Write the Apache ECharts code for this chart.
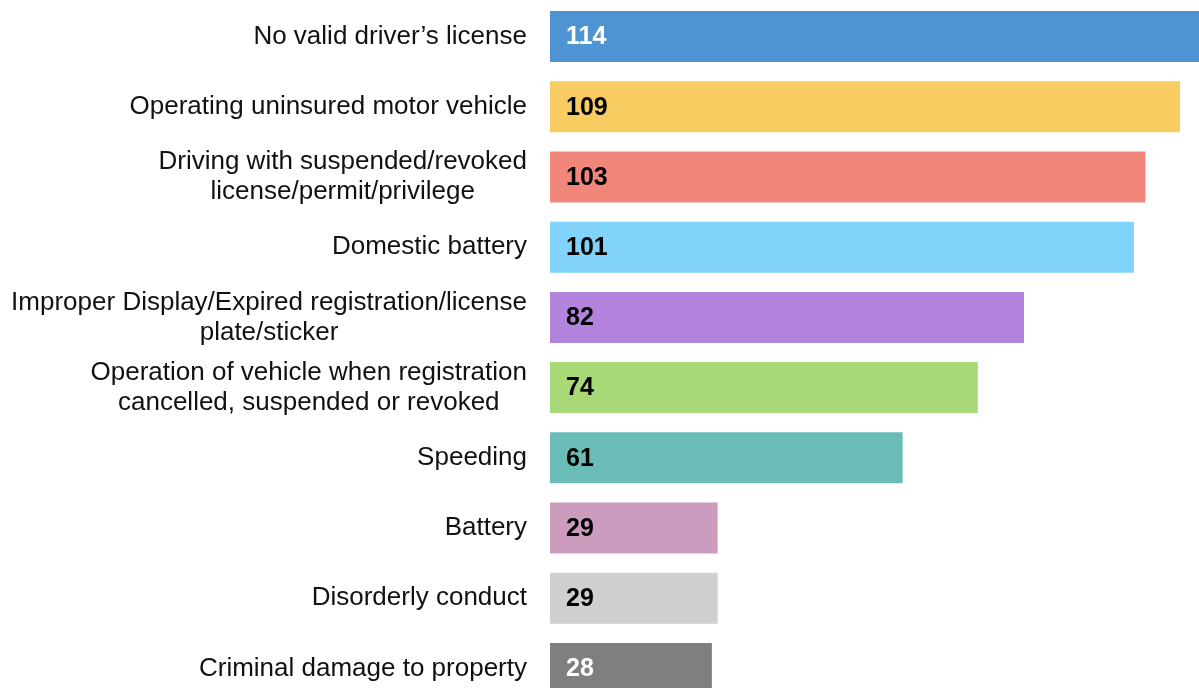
<!DOCTYPE html>
<html><head><meta charset="utf-8">
<script src="https://cdn.jsdelivr.net/npm/echarts@6/dist/echarts.min.js"></script>
<style>html,body{margin:0;padding:0;background:#fff}#c{width:1199px;height:688px}</style>
</head><body><div id="c"></div>
<script>
const categories = [
  "No valid driver\u2019s license",
  "Operating uninsured motor vehicle",
  "Driving with suspended/revoked\nlicense/permit/privilege",
  "Domestic battery",
  "Improper Display/Expired registration/license\nplate/sticker",
  "Operation of vehicle when registration\ncancelled, suspended or revoked",
  "Speeding",
  "Battery",
  "Disorderly conduct",
  "Criminal damage to property"
];
const values = [114, 109, 103, 101, 82, 74, 61, 29, 29, 28];
const barColors = ["#4E93D2", "#F7CD62", "#F0877A", "#81D3FB", "#B284DD", "#A9D977", "#6ABDB7", "#CC9CBE", "#D0CECF", "#7F7F7F"];
const labelColors = ["#ffffff", "#000000", "#000000", "#000000", "#000000", "#000000", "#000000", "#000000", "#000000", "#ffffff"];

const FONT = 'Liberation Sans, Arial, sans-serif';
const chart = echarts.init(document.getElementById('c'), null, {renderer: 'canvas'});
chart.setOption({
  animation: false,
  grid: {left: 550, top: 1.5, width: 659, height: 702, containLabel: false, outerBoundsMode: 'none'},
  xAxis: {type: 'value', min: 0, max: 114, show: false},
  yAxis: {
    type: 'category', data: categories, inverse: true,
    axisLine: {show: false}, axisTick: {show: false}, splitLine: {show: false},
    axisLabel: {
      margin: 23, fontSize: 26, color: '#111111', fontFamily: FONT, lineHeight: 30, align: 'right',
      formatter: v => v.split('\n').map(l => '{c|' + l + '}').join('\n'),
      rich: {c: {align: 'center', fontSize: 26, lineHeight: 30, color: '#111111', fontFamily: FONT}}
    }
  },
  series: [{
    type: 'bar', barWidth: 51,
    data: values.map((v, i) => ({
      value: v,
      itemStyle: {color: barColors[i]},
      label: {color: labelColors[i]}
    })),
    label: {show: true, position: 'insideLeft', distance: 16, offset: [0, 1], fontSize: 25, fontWeight: 'bold', fontFamily: FONT}
  }]
});
</script></body></html>
